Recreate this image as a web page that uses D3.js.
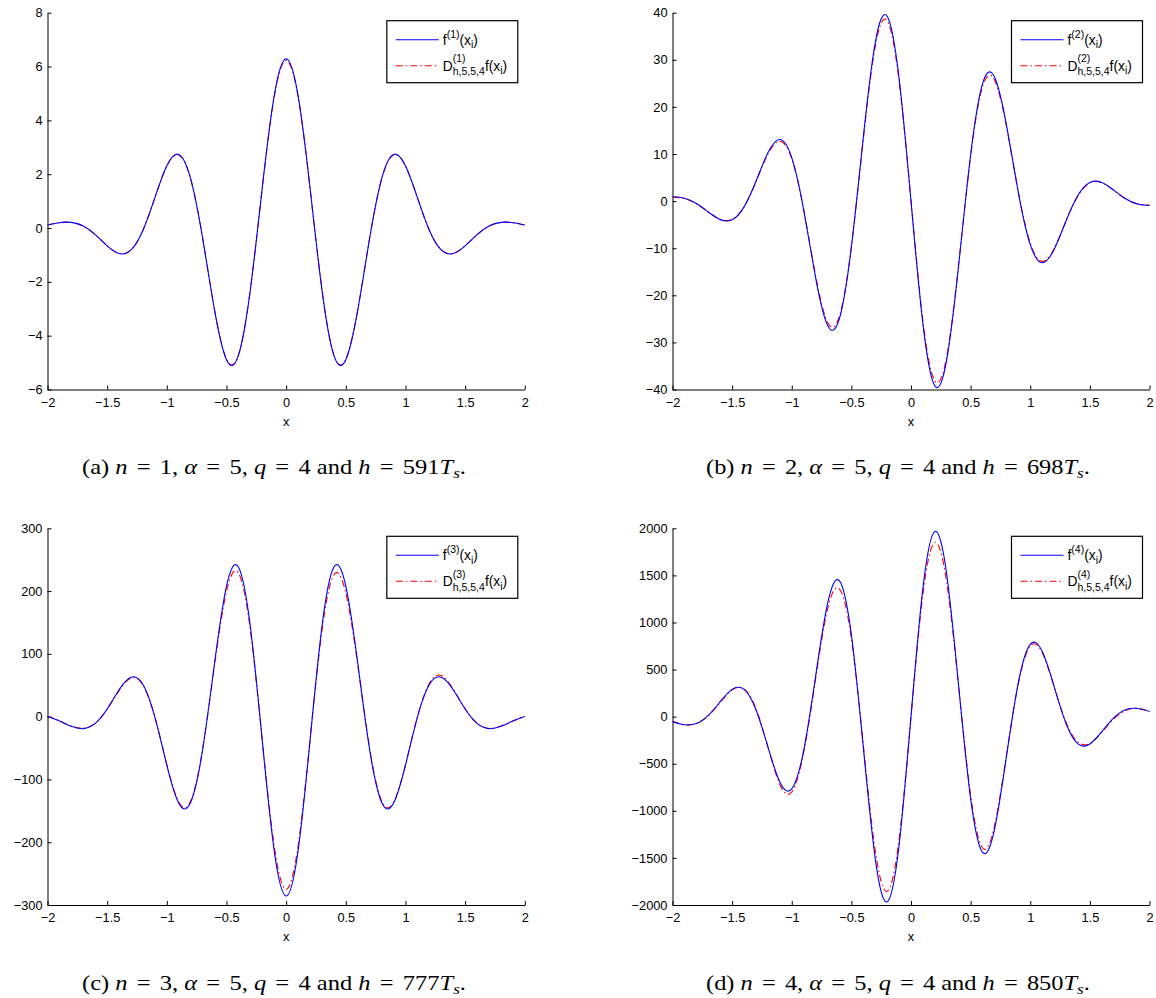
<!DOCTYPE html>
<html><head><meta charset="utf-8">
<script src="https://cdn.jsdelivr.net/npm/d3@7"></script>
<style>body{margin:0;background:#fff}svg{display:block}</style>
</head><body><svg id="c" width="1156" height="998"></svg>
<script>
// x grid shared by every curve
const xs = [-2,-1.9,-1.8,-1.7,-1.6,-1.5,-1.4,-1.3,-1.2,-1.1,-1,-0.9,-0.8,-0.7,-0.6,-0.5,-0.4,-0.3,-0.2,-0.1,0,
            0.1,0.2,0.3,0.4,0.5,0.6,0.7,0.8,0.9,1,1.1,1.2,1.3,1.4,1.5,1.6,1.7,1.8,1.9,2];
const xTicks = [-2,-1.5,-1,-0.5,0,0.5,1,1.5,2];

// (a) n = 1
const f1 = [0.115,0.198,0.210,0.072,-0.248,-0.662,-0.948,-0.815,-0.081,1.130,2.311,2.732,1.826,-0.374,-3.054,-4.893,-4.732,-2.296,1.500,4.916,6.283,
            4.916,1.500,-2.296,-4.732,-4.893,-3.054,-0.374,1.826,2.732,2.311,1.130,-0.081,-0.815,-0.948,-0.662,-0.248,0.072,0.210,0.198,0.115];
const d1 = [0.110,0.200,0.205,0.070,-0.245,-0.660,-0.945,-0.810,-0.085,1.120,2.300,2.715,1.815,-0.370,-3.040,-4.875,-4.715,-2.285,1.490,4.880,6.220,
            4.880,1.490,-2.285,-4.715,-4.875,-3.040,-0.370,1.815,2.715,2.300,1.120,-0.085,-0.810,-0.945,-0.660,-0.245,0.070,0.205,0.200,0.110];
const yTicks1 = [-6,-4,-2,0,2,4,6,8];

// (b) n = 2
const f2 = [0.921,0.615,-0.515,-2.315,-3.934,-3.973,-1.225,4.230,10.257,13.091,9.246,-1.858,-16.241,-26.356,-24.931,-9.787,13.525,33.611,39.248,26.128,0,
            -26.128,-39.248,-33.611,-13.525,9.787,24.931,26.356,16.241,1.858,-9.246,-13.091,-10.257,-4.230,1.225,3.973,3.934,2.315,0.515,-0.615,-0.921];
const d2 = [0.85,0.55,-0.55,-2.30,-3.85,-3.90,-1.25,4.10,9.95,12.70,9.00,-1.75,-15.80,-25.70,-24.40,-9.60,13.10,32.80,38.30,25.50,0.1,
            -25.40,-38.20,-32.90,-13.30,9.50,24.30,25.70,15.90,1.90,-8.90,-12.80,-10.10,-4.20,1.10,3.85,3.90,2.30,0.45,-0.60,-0.85];
const yTicks2 = [-40,-30,-20,-10,0,10,20,30,40];

// (c) n = 3
const f3 = [0.290,-6.943,-15.449,-19.120,-10.805,12.237,42.752,62.720,51.207,-0.810,-77.384,-137.903,-136.488,-52.801,85.440,207.862,238.284,143.493,-38.520,-213.794,-285.749,
            -213.794,-38.520,143.493,238.284,207.862,85.440,-52.801,-136.488,-137.903,-77.384,-0.810,51.207,62.720,42.752,12.237,-10.805,-19.120,-15.449,-6.943,0.290];
const d3v = [0.5,-6.5,-15.0,-18.5,-10.5,11.8,41.5,61.5,50.5,-1.0,-76.0,-136.0,-134.5,-51.5,82.0,199.5,229.0,138.0,-37.5,-206.0,-275.0,
            -206.0,-37.0,137.0,226.0,197.0,82.5,-51.0,-134.0,-136.5,-76.5,-0.5,53.0,65.5,44.0,12.5,-10.5,-18.8,-15.0,-6.8,0.3];
const yTicks3 = [-300,-200,-100,0,100,200,300];

// (d) n = 4
const f4 = [-54.28,-86.20,-73.34,12.83,159.10,289.89,289.03,72.73,-320.51,-693.37,-767.00,-361.25,427.75,1199.00,1441.88,870.59,-322.85,-1506.98,-1966.90,-1366.79,0,
            1366.79,1966.90,1506.98,322.85,-870.59,-1441.88,-1199.00,-427.75,361.25,767.00,693.37,320.51,-72.73,-289.03,-289.89,-159.10,-12.83,73.34,86.20,54.28];
const d4 = [-50,-85,-72,10,150,285,295,85,-320,-720,-800,-380,400,1140,1355,830,-300,-1420,-1855,-1300,0,
            1300,1850,1420,310,-830,-1395,-1160,-410,350,750,680,320,-60,-270,-285,-165,-25,65,90,55];
const yTicks4 = [-2000,-1500,-1000,-500,0,500,1000,1500,2000];

const orders = ["1","2","3","4"];
const captionLetters = ["a","b","c","d"];
const hValues = ["591","698","777","850"];

const svg = d3.select("#c");
const SANS = "'Liberation Sans', Arial, Helvetica, sans-serif";
const SERIF = "'Liberation Serif', 'Times New Roman', serif";
const fmt = d => d < 0 ? "\u2212" + Math.abs(d) : String(d);

const cols = [{l:47.5, r:524.8}, {l:672.5, r:1149.5}];
const rows = [{t:12.7, b:389.5}, {t:528.3, b:905}];

const panels = [
  {f:f1, d:d1, ticks:yTicks1, col:0, row:0},
  {f:f2, d:d2, ticks:yTicks2, col:1, row:0},
  {f:f3, d:d3v, ticks:yTicks3, col:0, row:1},
  {f:f4, d:d4, ticks:yTicks4, col:1, row:1}
];

panels.forEach((p, i) => {
  const c = cols[p.col], r = rows[p.row];
  const x = d3.scaleLinear().domain([-2, 2]).range([c.l, c.r]);
  const y = d3.scaleLinear().domain([p.ticks[0], p.ticks[p.ticks.length-1]]).range([r.b, r.t]);
  const g = svg.append("g");

  const ax = g.append("g").attr("transform", `translate(0,${r.b})`)
    .call(d3.axisBottom(x).tickValues(xTicks).tickFormat(fmt).tickSizeInner(-4).tickSizeOuter(0).tickPadding(8));
  const ay = g.append("g").attr("transform", `translate(${c.l},0)`)
    .call(d3.axisLeft(y).tickValues(p.ticks).tickFormat(fmt).tickSizeInner(-4).tickSizeOuter(0).tickPadding(5));
  [ax, ay].forEach(a => {
    a.selectAll("path.domain").attr("stroke", "#000").attr("stroke-width", 1);
    a.selectAll(".tick line").attr("stroke", "#000");
    a.selectAll("text").attr("fill", "#000").style("font-family", SANS).style("font-size", "12.8px");
  });

  g.append("text").attr("x", (c.l + c.r) / 2).attr("y", r.b + 36).attr("text-anchor", "middle")
    .style("font-family", SANS).style("font-size", "12.8px").text("x");

  const line = d3.line().x((v, k) => x(xs[k])).y(v => y(v)).curve(d3.curveNatural);
  g.append("path").attr("d", line(p.d)).attr("fill", "none").attr("stroke", "#ff0000").attr("stroke-width", 1.1)
    .attr("stroke-dasharray", "7,3,1.5,3");
  g.append("path").attr("d", line(p.f)).attr("fill", "none").attr("stroke", "#0000ff").attr("stroke-width", 1.1);

  // legend
  const lx = c.r - 138, ly = r.t + 8, lw = 131, lh = 62;
  const lg = g.append("g");
  lg.append("rect").attr("x", lx).attr("y", ly).attr("width", lw).attr("height", lh)
    .attr("fill", "#fff").attr("stroke", "#000").attr("stroke-width", 1.2);
  const y1 = ly + 19, y2 = ly + 45;
  lg.append("line").attr("x1", lx + 9).attr("x2", lx + 52).attr("y1", y1).attr("y2", y1)
    .attr("stroke", "#0000ff").attr("stroke-width", 1.1);
  lg.append("line").attr("x1", lx + 9).attr("x2", lx + 52).attr("y1", y2).attr("y2", y2)
    .attr("stroke", "#ff0000").attr("stroke-width", 1.1).attr("stroke-dasharray", "7,3,1.5,3");
  const tx = lx + 56;
  const txt = (xx, yy, s, size) => lg.append("text").attr("x", xx).attr("y", yy)
    .style("font-family", SANS).style("font-size", size + "px").attr("fill", "#000").text(s);
  const wOf = t => t.node().getComputedTextLength();
  const BIG = 13.8, SMALL = 10.5;
  // row 1: f^(n)(x_i)
  let t = txt(tx, y1 + 5, "f", BIG); let cx = tx + wOf(t);
  t = txt(cx, y1 - 2, "(" + orders[i] + ")", SMALL); cx += wOf(t);
  t = txt(cx, y1 + 5, "(x", BIG); cx += wOf(t);
  t = txt(cx, y1 + 8.5, "i", SMALL); cx += wOf(t);
  txt(cx, y1 + 5, ")", BIG);
  // row 2: D^(n)_{h,5,5,4} f(x_i)
  t = txt(tx, y2 + 5, "D", BIG); cx = tx + wOf(t);
  const ts = txt(cx, y2 - 3.5, "(" + orders[i] + ")", SMALL);
  const tb = txt(cx, y2 + 9.5, "h,5,5,4", SMALL);
  cx += Math.max(wOf(ts), wOf(tb));
  t = txt(cx, y2 + 5, "f(x", BIG); cx += wOf(t);
  t = txt(cx, y2 + 8.5, "i", SMALL); cx += wOf(t);
  txt(cx, y2 + 5, ")", BIG);

  // caption
  const capX = p.col === 0 ? 82 : 706;
  const capY = p.row === 0 ? 474 : 989.6;
  const capW = 384;
  const cg = svg.append("g");
  const cap = cg.append("text").attr("x", 0).attr("y", 0)
    .style("font-family", SERIF).style("font-size", "20px").attr("fill", "#000");
  const M = 7.5;
  const parts = [
    ["(" + captionLetters[i] + ")  ", false, 0], ["n", true, 0], ["=", false, M], [orders[i], false, M], [", ", false, 0],
    ["\u03b1", true, 0], ["=", false, M], ["5", false, M], [", ", false, 0],
    ["q", true, 0], ["=", false, M], ["4", false, M], [" and ", false, 0],
    ["h", true, 0], ["=", false, M], [hValues[i], false, M], ["T", true, 0]
  ];
  parts.forEach(([s, it, dx]) => cap.append("tspan").attr("dx", dx).style("font-style", it ? "italic" : "normal").text(s));
  cap.append("tspan").style("font-style", "italic").style("font-size", "14px").attr("dy", 4).text("s");
  cap.append("tspan").attr("dy", -4).text(".");
  const w = cap.node().getBBox().width;
  cg.attr("transform", `translate(${capX},${capY}) scale(${capW / w},1)`);
});
</script></body></html>
